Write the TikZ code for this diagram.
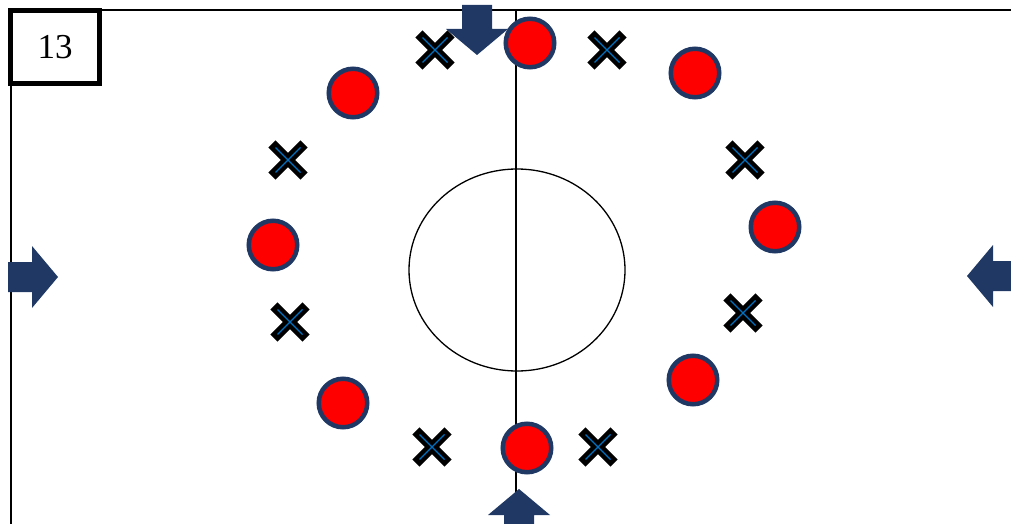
\documentclass[tikz,border=0pt]{standalone}
\usepackage{fontspec}
\setmainfont{Liberation Serif}
\usetikzlibrary{shapes.geometric}
\definecolor{navy}{RGB}{31,56,100}
\definecolor{shirt}{RGB}{255,0,0}
\definecolor{markblue}{RGB}{0,112,192}
\tikzset{
  pitch/.style={draw=black, line width=1.3pt},
  player/.style={circle, draw=navy, fill=shirt, line width=4.5pt, minimum size=48.5pt, inner sep=0pt},
  cone/.style={rectangle, minimum size=25pt, inner sep=0pt, outer sep=0pt},
  conebar/.style={draw=black, line width=10pt, line cap=rect},
  coneline/.style={draw=markblue, line width=1.3pt},
  tag/.style={draw=black, line width=5pt, fill=white, minimum width=89pt, minimum height=73pt, inner sep=0pt,
    font=\fontsize{35}{40}\selectfont},
  fatarrow/.pic={\fill[navy] (0,0) -- (-26,31) -- (-26,15) -- (-50,15) -- (-50,-15) -- (-26,-15) -- (-26,-31) -- cycle;},
}
\begin{document}
\begin{tikzpicture}[x=1pt, y=-1pt]
  \useasboundingbox (0,0) rectangle (1011,524);
  \clip (0,0) rectangle (1011,524);
  % pitch
  \draw[pitch] (11,540) -- (11,10) -- (1030,10);
  \draw[pitch] (516,10) -- (516,540);
  \node[pitch, ellipse, minimum width=216pt, minimum height=202pt, inner sep=0pt] (centre) at (517,270) {};
  % entry arrows
  \pic[rotate=0] at (58,277) {fatarrow};
  \pic[rotate=180] at (967,276) {fatarrow};
  \pic[rotate=-90] at (477,55) {fatarrow};
  \pic[rotate=90] at (519,489) {fatarrow};
  % players and markers
  \foreach \x/\y [count=\i] in {530/43, 695/73, 775/227, 693/380, 527/448, 343/403, 273/245, 353/93}
    \node[player] (p\i) at (\x,\y) {};
  \foreach \x/\y [count=\i] in {607/50, 745/160, 743/313, 598/447, 432/447, 290/322, 288/160, 435/50} {
    \node[cone] (c\i) at (\x,\y) {};
    \draw[conebar] (c\i.north west) -- (c\i.south east) (c\i.north east) -- (c\i.south west);
    \draw[coneline] (c\i.north west) -- (c\i.south east) (c\i.north east) -- (c\i.south west);
  }
  \node[tag] (drill) at (55,47) {13};
\end{tikzpicture}
\end{document}
